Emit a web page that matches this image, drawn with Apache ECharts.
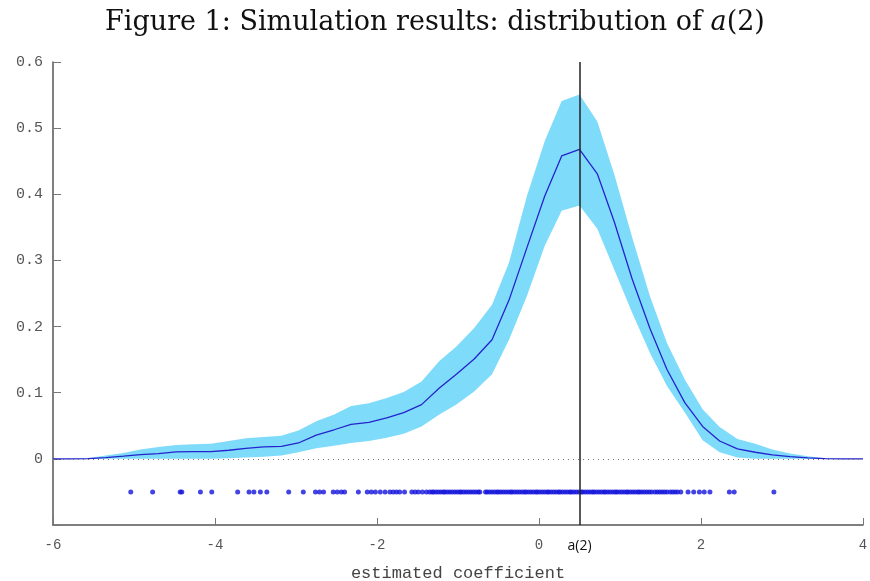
<!DOCTYPE html>
<html>
<head>
<meta charset="utf-8">
<script src="https://cdn.jsdelivr.net/npm/echarts@6/dist/echarts.min.js"></script>
<style>
  html, body { margin: 0; padding: 0; background: #fff; }
  #main { width: 870px; height: 581px; }
</style>
</head>
<body>
<div id="main"></div>
<script>
// grid of the density estimate (x = estimated coefficient)
const gridX = [-6.00, -5.78, -5.57, -5.35, -5.13, -4.92, -4.70, -4.48, -4.27, -4.05,
  -3.83, -3.62, -3.40, -3.18, -2.97, -2.75, -2.53, -2.32, -2.10, -1.88,
  -1.67, -1.45, -1.23, -1.02, -0.80, -0.58, -0.37, -0.15, 0.07, 0.28,
  0.50, 0.72, 0.93, 1.15, 1.37, 1.58, 1.80, 2.02, 2.23, 2.45,
  2.67, 2.88, 3.10, 3.32, 3.53, 3.75, 4.00];

// mean density
const meanY = [0, 0, 0.0005, 0.002, 0.004, 0.0065, 0.008, 0.0105, 0.011, 0.011,
  0.013, 0.016, 0.018, 0.019, 0.024, 0.036, 0.044, 0.052, 0.055, 0.062,
  0.070, 0.082, 0.107, 0.128, 0.151, 0.180, 0.240, 0.319, 0.397, 0.458,
  0.468, 0.431, 0.358, 0.272, 0.197, 0.135, 0.085, 0.049, 0.027, 0.015,
  0.010, 0.006, 0.0035, 0.0015, 0.0005, 0, 0];

// lower / upper edge of the shaded band
const lowerY = [0, 0, 0, 0, 0, 0, 0, 0, 0, 0,
  0.001, 0.002, 0.003, 0.005, 0.010, 0.016, 0.020, 0.024, 0.027, 0.032,
  0.038, 0.049, 0.067, 0.082, 0.102, 0.128, 0.180, 0.246, 0.322, 0.375,
  0.383, 0.348, 0.286, 0.221, 0.160, 0.110, 0.070, 0.028, 0.010, 0.002,
  0, 0, 0, 0, 0, 0, 0];
const upperY = [0, 0, 0.001, 0.005, 0.009, 0.014, 0.018, 0.021, 0.022, 0.023,
  0.027, 0.031, 0.033, 0.035, 0.043, 0.057, 0.067, 0.080, 0.084, 0.092,
  0.101, 0.117, 0.148, 0.170, 0.198, 0.233, 0.297, 0.397, 0.480, 0.541,
  0.551, 0.510, 0.430, 0.335, 0.246, 0.175, 0.120, 0.075, 0.048, 0.030,
  0.023, 0.014, 0.008, 0.004, 0.001, 0, 0];

// individual estimates shown as a rug under the curve
const rugX = [-5.04, -4.77, -4.43, -4.41, -4.18, -4.04, -3.72, -3.58, -3.52, -3.44,
  -3.36, -3.09, -2.91, -2.76, -2.71, -2.66, -2.54, -2.49, -2.44, -2.40,
  -2.23, -2.12, -2.07, -2.02, -1.96, -1.90, -1.84, -1.80, -1.76, -1.72,
  -1.66, -1.57, -1.53, -1.49, -1.44, -1.39,
  -1.35, -1.32, -1.30, -1.27, -1.24, -1.21, -1.18, -1.16, -1.13, -1.10,
  -1.07, -1.04, -1.01, -0.98, -0.96, -0.93, -0.90, -0.87, -0.84, -0.81,
  -0.78, -0.75, -0.73, -0.66, -0.64, -0.61, -0.58, -0.55, -0.52, -0.50,
  -0.47, -0.44, -0.41, -0.38, -0.35, -0.33, -0.30, -0.27, -0.24, -0.21,
  -0.18, -0.16, -0.13, -0.10, -0.07, -0.04, -0.02, 0.01, 0.04, 0.07,
  0.10, 0.12, 0.15, 0.18, 0.21, 0.24, 0.26, 0.29, 0.32, 0.35,
  0.38, 0.40, 0.43, 0.46, 0.49, 0.52, 0.54, 0.57, 0.60, 0.63,
  0.66, 0.68, 0.71, 0.74, 0.77, 0.80, 0.82, 0.85, 0.88, 0.91,
  0.94, 0.96, 0.99, 1.02, 1.05, 1.08, 1.10, 1.13, 1.16, 1.19,
  1.22, 1.24, 1.27, 1.30, 1.33, 1.36, 1.39, 1.43, 1.46, 1.49,
  1.52, 1.55, 1.58, 1.62, 1.65, 1.68, 1.71, 1.75,
  1.84, 1.91, 1.98, 2.04, 2.11, 2.35, 2.41, 2.90];
const rugLevel = -0.05;

const trueValue = 0.5; // a(2)

const chart = echarts.init(document.getElementById('main'));

const pairs = (xs, ys) => xs.map((x, i) => [x, ys[i]]);
const monoFont = 'Liberation Mono';

// shaded band: upper edge left->right, lower edge right->left
function renderBand(params, api) {
  const pts = [];
  for (let i = 0; i < gridX.length; i++) pts.push(api.coord([gridX[i], upperY[i]]));
  for (let i = gridX.length - 1; i >= 0; i--) pts.push(api.coord([gridX[i], lowerY[i]]));
  return {
    type: 'polygon',
    shape: { points: pts },
    style: { fill: '#7fdbfa', stroke: null }
  };
}

chart.setOption({
  animation: false,
  title: {
    text: 'Figure 1: Simulation results: distribution of {i|a}(2)',
    left: 'center',
    top: 4,
    textStyle: {
      fontFamily: 'DejaVu Serif',
      fontSize: 27,
      fontWeight: 'normal',
      color: '#111',
      rich: {
        i: { fontFamily: 'DejaVu Serif', fontSize: 27, fontStyle: 'italic', color: '#111' }
      }
    }
  },
  grid: { left: 53, right: 7, top: 62, bottom: 56, outerBoundsMode: 'none', containLabel: false },
  xAxis: {
    type: 'value',
    min: -6,
    max: 4,
    interval: 2,
    name: 'estimated coefficient',
    nameLocation: 'middle',
    nameGap: 40,
    nameTextStyle: { fontFamily: monoFont, fontSize: 17, color: '#444' },
    axisLine: { onZero: false, lineStyle: { color: '#555', width: 1.5 } },
    axisTick: { inside: true, length: 7, lineStyle: { color: '#777' } },
    axisLabel: { fontFamily: monoFont, fontSize: 14, color: '#555', margin: 13 },
    splitLine: { show: false }
  },
  yAxis: {
    type: 'value',
    min: -0.1,
    max: 0.6,
    interval: 0.1,
    axisLine: { show: true, onZero: false, lineStyle: { color: '#555', width: 1.5 } },
    axisTick: { show: true, inside: true, length: 8, lineStyle: { color: '#777' } },
    axisLabel: {
      fontFamily: monoFont, fontSize: 15, color: '#555', margin: 10,
      formatter: v => (v < -0.05 ? '' : (Math.round(v * 10) / 10).toString())
    },
    splitLine: { show: false }
  },
  series: [
    {
      name: 'band',
      type: 'custom',
      renderItem: renderBand,
      data: [[gridX[0], lowerY[0]]],
      silent: true,
      z: 1
    },
    {
      name: 'mean',
      type: 'line',
      data: pairs(gridX, meanY),
      symbol: 'none',
      lineStyle: { color: '#2424cc', width: 1.3 },
      z: 3,
      markLine: {
        silent: true,
        symbol: 'none',
        data: [
          {
            yAxis: 0,
            lineStyle: { color: '#777', type: [1, 4], width: 1 },
            label: { show: false }
          },
          {
            xAxis: trueValue,
            lineStyle: { color: '#222', type: 'solid', width: 1.5 },
            label: {
              show: true,
              position: 'start',
              formatter: 'a(2)',
              fontFamily: 'Open Sans',
              fontSize: 14,
              color: '#111',
              distance: 14
            }
          }
        ]
      }
    },
    {
      name: 'estimates',
      type: 'scatter',
      data: rugX.map(x => [x, rugLevel]),
      symbolSize: 5,
      itemStyle: { color: '#1414dc' },
      z: 4
    }
  ]
});
</script>
</body>
</html>
